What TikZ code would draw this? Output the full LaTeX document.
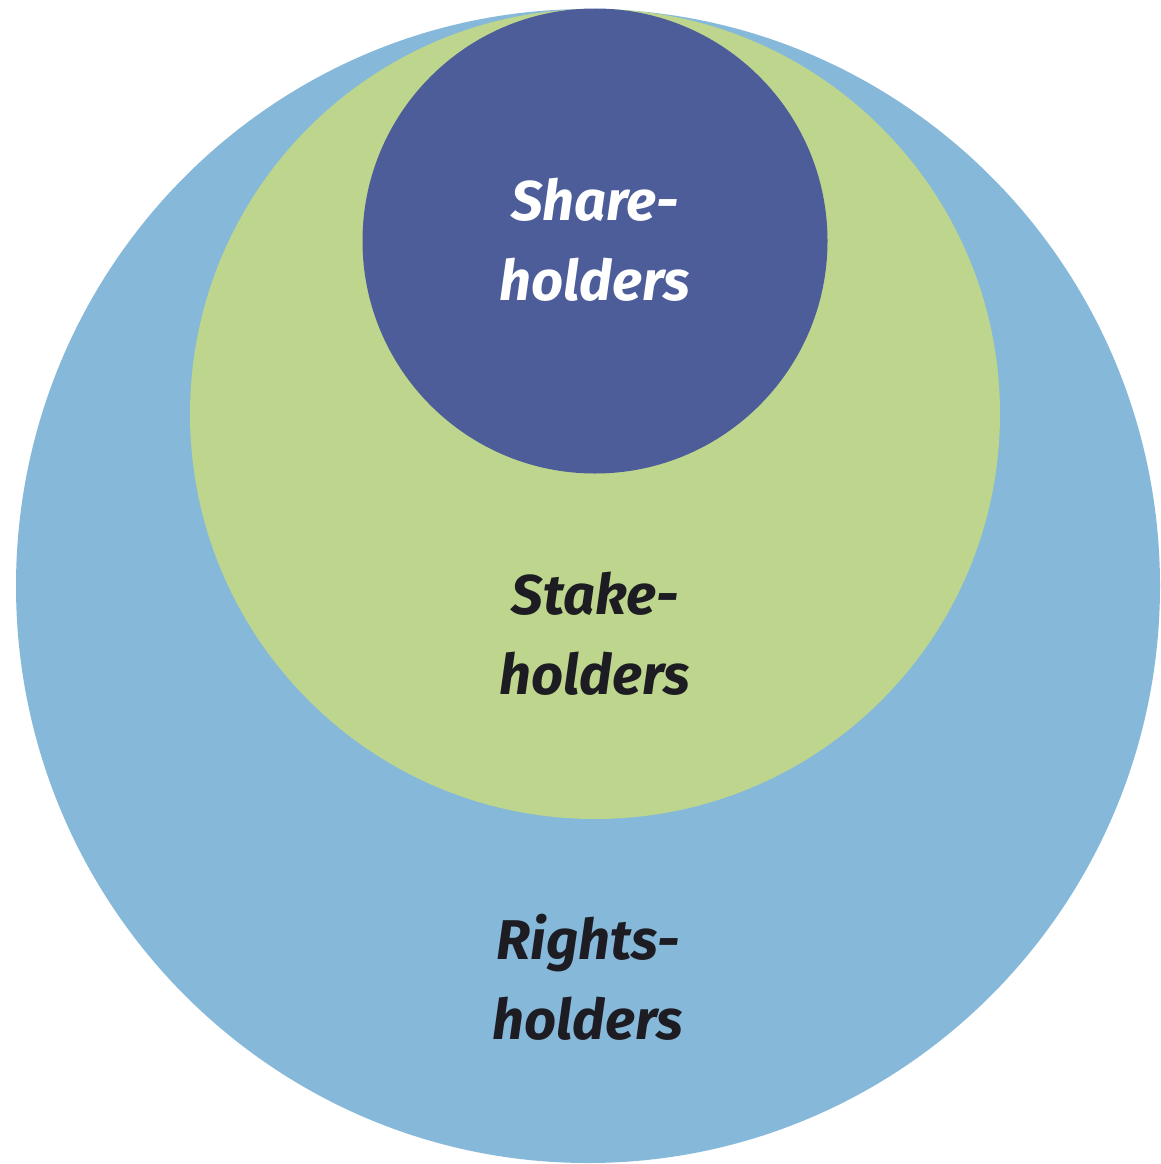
\documentclass[tikz,border=0pt]{standalone}
\usepackage{fontspec}
\setmainfont{Fira Sans}
\usetikzlibrary{shapes.geometric}
\definecolor{outerblue}{HTML}{86B8D9}
\definecolor{midgreen}{HTML}{BDD58D}
\definecolor{innerblue}{HTML}{4C5D99}
\definecolor{darktext}{HTML}{1C1C22}
\begin{document}
\begin{tikzpicture}[x=1pt,y=-1pt,
  ring/.style={circle,inner sep=0pt,draw=none},
  lbl/.style={font=\fontsize{56}{80}\selectfont\bfseries\itshape,align=center,inner sep=0pt}]
\useasboundingbox (0,0) rectangle (1160,1164);
\node[ellipse,inner sep=0pt,draw=none,fill=outerblue,minimum width=1144pt,minimum height=1154pt] (outer) at (588,586) {};
\node[ring,fill=midgreen,minimum size=810pt] (mid) at (595,414) {};
\node[ring,fill=innerblue,minimum size=465pt] (inner) at (595,241) {};
\node[lbl,text=white] (share) at (595,240) {Share-\\holders};
\node[lbl,text=darktext] (stake) at (595,634) {Stake-\\holders};
\node[lbl,text=darktext] (rights) at (588,977) {Rights-\\holders};
\end{tikzpicture}
\end{document}
